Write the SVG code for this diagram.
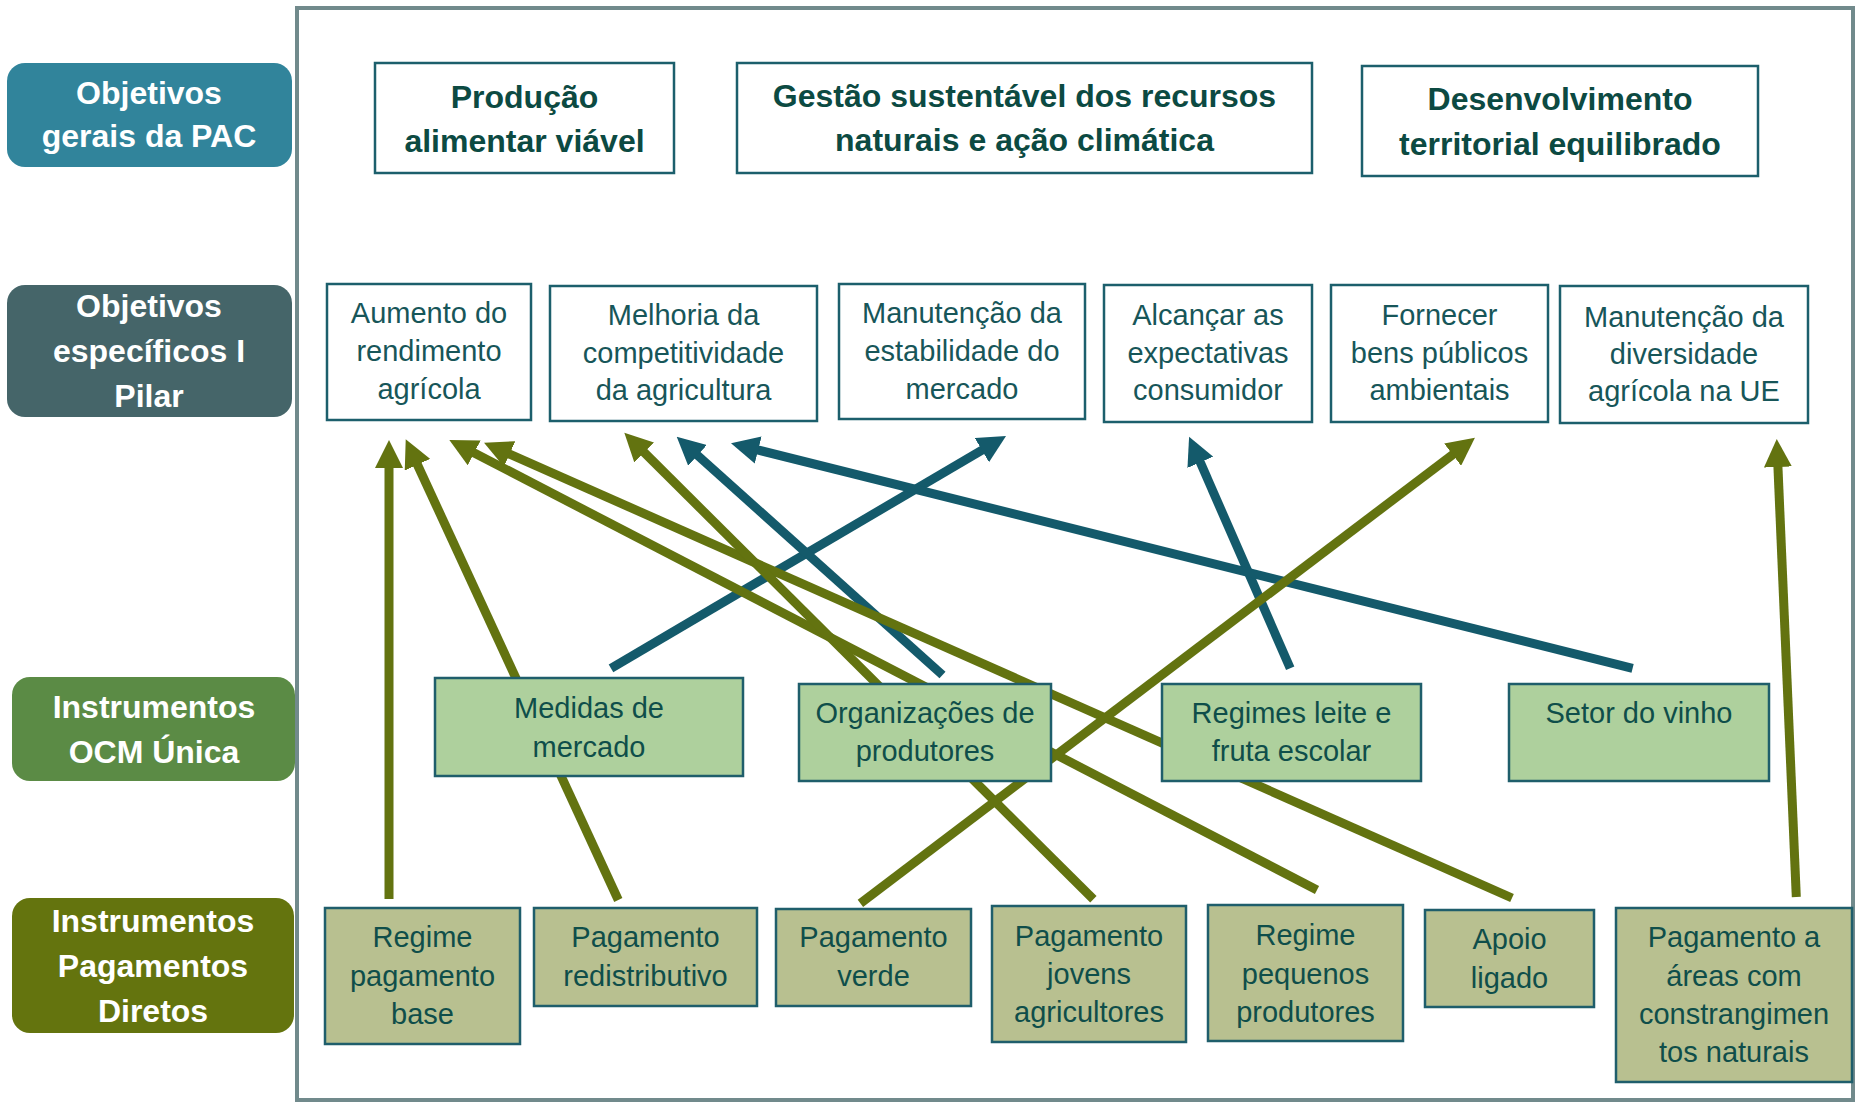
<svg xmlns="http://www.w3.org/2000/svg" width="1856" height="1104" viewBox="0 0 1856 1104">
<defs>
<style>
.lbl{font-family:"Liberation Sans",Arial,sans-serif;font-weight:bold;font-size:32px;fill:#ffffff;text-anchor:middle}
.goal rect{fill:#ffffff;stroke:#1c5f6c;stroke-width:2.5}
.goal text{font-family:"Liberation Sans",Arial,sans-serif;font-weight:bold;font-size:32px;fill:#0c4a42;text-anchor:middle}
.obj rect{fill:#ffffff;stroke:#1c5f6c;stroke-width:2.5}
.obj text{font-family:"Liberation Sans",Arial,sans-serif;font-size:29px;fill:#175659;text-anchor:middle}
.ocm rect{fill:#aed09d;stroke:#1f5e6b;stroke-width:2.5}
.pay rect{fill:#b8c090;stroke:#1f5e6b;stroke-width:2.5}
.ocm text,.pay text{font-family:"Liberation Sans",Arial,sans-serif;font-size:29px;fill:#0f4e4a;text-anchor:middle}
.ol{stroke:#637310;stroke-width:9;fill:none;marker-end:url(#ahO)}
.tl{stroke:#145a6b;stroke-width:9;fill:none;marker-end:url(#ahT)}
</style>
<marker id="ahO" viewBox="0 0 28 28" markerWidth="28" markerHeight="28" markerUnits="userSpaceOnUse" refX="8" refY="14" orient="auto"><path d="M0,0 L28,14 L0,28 z" fill="#637310"/></marker>
<marker id="ahT" viewBox="0 0 28 28" markerWidth="28" markerHeight="28" markerUnits="userSpaceOnUse" refX="8" refY="14" orient="auto"><path d="M0,0 L28,14 L0,28 z" fill="#145a6b"/></marker>
</defs>
<rect width="1856" height="1104" fill="#ffffff"/>
<rect id="frame" x="297" y="8" width="1556" height="1092" fill="none" stroke="#718a8c" stroke-width="4"/>

<g id="label-gerais"><rect x="7" y="63" width="285" height="104" rx="18" fill="#31849b"/><text class="lbl" x="149" y="104">Objetivos</text><text class="lbl" x="149" y="147">gerais da PAC</text></g>
<g id="label-especificos"><rect x="7" y="285" width="285" height="132" rx="18" fill="#456569"/><text class="lbl" x="149" y="317">Objetivos</text><text class="lbl" x="149" y="362">específicos I</text><text class="lbl" x="149" y="407">Pilar</text></g>
<g id="label-ocm"><rect x="12" y="677" width="283" height="104" rx="18" fill="#5b8b45"/><text class="lbl" x="154" y="718">Instrumentos</text><text class="lbl" x="154" y="763">OCM Única</text></g>
<g id="label-pagamentos"><rect x="12" y="898" width="282" height="135" rx="18" fill="#64740e"/><text class="lbl" x="153" y="932">Instrumentos</text><text class="lbl" x="153" y="977">Pagamentos</text><text class="lbl" x="153" y="1022">Diretos</text></g>

<g id="goal-producao" class="goal"><rect x="375" y="63" width="299" height="110"/><text x="524.5" y="108">Produção</text><text x="524.5" y="152">alimentar viável</text></g>
<g id="goal-gestao" class="goal"><rect x="737" y="63" width="575" height="110"/><text x="1024.5" y="107">Gestão sustentável dos recursos</text><text x="1024.5" y="151">naturais e ação climática</text></g>
<g id="goal-desenvolvimento" class="goal"><rect x="1362" y="66" width="396" height="110"/><text x="1560" y="110">Desenvolvimento</text><text x="1560" y="155">territorial equilibrado</text></g>

<g id="obj-rendimento" class="obj"><rect x="327" y="284" width="204" height="136"/><text x="429" y="323">Aumento do</text><text x="429" y="361">rendimento</text><text x="429" y="399">agrícola</text></g>
<g id="obj-competitividade" class="obj"><rect x="550" y="286" width="267" height="135"/><text x="683.5" y="325">Melhoria da</text><text x="683.5" y="363">competitividade</text><text x="683.5" y="400">da agricultura</text></g>
<g id="obj-estabilidade" class="obj"><rect x="839" y="284" width="246" height="135"/><text x="962" y="323">Manutenção da</text><text x="962" y="361">estabilidade do</text><text x="962" y="399">mercado</text></g>
<g id="obj-consumidor" class="obj"><rect x="1104" y="285" width="208" height="137"/><text x="1208" y="325">Alcançar as</text><text x="1208" y="363">expectativas</text><text x="1208" y="400">consumidor</text></g>
<g id="obj-ambientais" class="obj"><rect x="1331" y="285" width="217" height="137"/><text x="1439.5" y="325">Fornecer</text><text x="1439.5" y="363">bens públicos</text><text x="1439.5" y="400">ambientais</text></g>
<g id="obj-diversidade" class="obj"><rect x="1560" y="286" width="248" height="137"/><text x="1684" y="327">Manutenção da</text><text x="1684" y="364">diversidade</text><text x="1684" y="401">agrícola na UE</text></g>

<g id="connectors">
<line class="tl" x1="611" y1="668.3" x2="988.8" y2="446.1"/>
<line class="tl" x1="942.5" y1="675" x2="691.6" y2="450"/>
<line class="tl" x1="1290.2" y1="668.3" x2="1197.1" y2="455"/>
<line class="tl" x1="1632.6" y1="668.3" x2="750.4" y2="448.1"/>
<line class="ol" x1="389" y1="899" x2="389" y2="460"/>
<line class="ol" x1="618.3" y1="900" x2="414.1" y2="457.5"/>
<line class="ol" x1="1317" y1="890" x2="467.1" y2="449.2"/>
<line class="ol" x1="1512" y1="898" x2="502.3" y2="450.8"/>
<line class="ol" x1="1093.4" y1="899.3" x2="638.5" y2="446.8"/>
<line class="ol" x1="860.4" y1="903.3" x2="1459" y2="449.8"/>
<line class="ol" x1="1796.3" y1="897" x2="1777.6" y2="459"/>
</g>

<g id="ocm-medidas" class="ocm"><rect x="435" y="678" width="308" height="98"/><text x="589" y="718">Medidas de</text><text x="589" y="757">mercado</text></g>
<g id="ocm-organizacoes" class="ocm"><rect x="799" y="684" width="252" height="97"/><text x="925" y="723">Organizações de</text><text x="925" y="761">produtores</text></g>
<g id="ocm-leite" class="ocm"><rect x="1162" y="684" width="259" height="97"/><text x="1291.5" y="723">Regimes leite e</text><text x="1291.5" y="761">fruta escolar</text></g>
<g id="ocm-vinho" class="ocm"><rect x="1509" y="684" width="260" height="97"/><text x="1639" y="723">Setor do vinho</text></g>

<g id="pay-base" class="pay"><rect x="325" y="908" width="195" height="136"/><text x="422.5" y="947">Regime</text><text x="422.5" y="986">pagamento</text><text x="422.5" y="1024">base</text></g>
<g id="pay-redistributivo" class="pay"><rect x="534" y="908" width="223" height="98"/><text x="645.5" y="947">Pagamento</text><text x="645.5" y="986">redistributivo</text></g>
<g id="pay-verde" class="pay"><rect x="776" y="909" width="195" height="97"/><text x="873.5" y="947">Pagamento</text><text x="873.5" y="986">verde</text></g>
<g id="pay-jovens" class="pay"><rect x="992" y="906" width="194" height="136"/><text x="1089" y="946">Pagamento</text><text x="1089" y="984">jovens</text><text x="1089" y="1022">agricultores</text></g>
<g id="pay-pequenos" class="pay"><rect x="1208" y="905" width="195" height="136"/><text x="1305.5" y="945">Regime</text><text x="1305.5" y="984">pequenos</text><text x="1305.5" y="1022">produtores</text></g>
<g id="pay-apoio" class="pay"><rect x="1425" y="910" width="169" height="97"/><text x="1509.5" y="949">Apoio</text><text x="1509.5" y="988">ligado</text></g>
<g id="pay-areas" class="pay"><rect x="1616" y="908" width="236" height="174"/><text x="1734" y="947">Pagamento a</text><text x="1734" y="986">áreas com</text><text x="1734" y="1024">constrangimen</text><text x="1734" y="1062">tos naturais</text></g>
</svg>
